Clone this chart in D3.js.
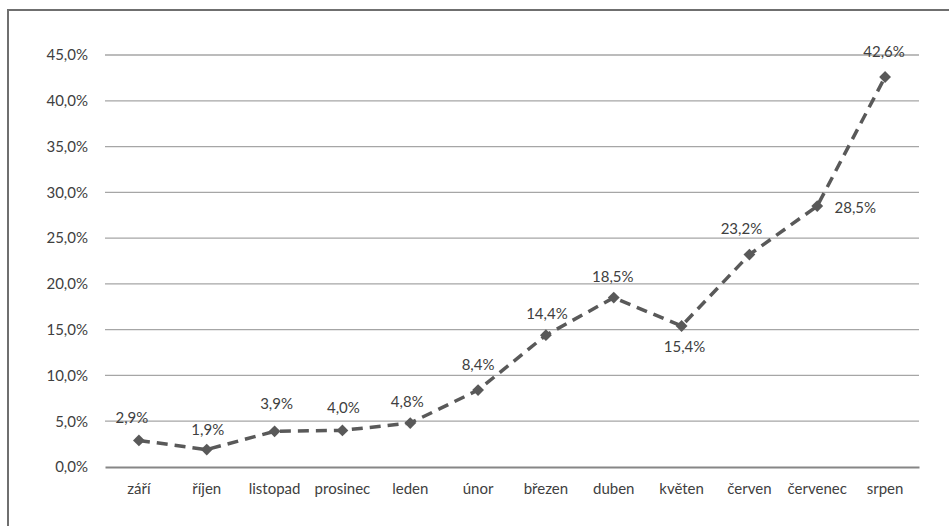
<!DOCTYPE html>
<html>
<head>
<meta charset="utf-8">
<script src="https://cdn.jsdelivr.net/npm/d3@7"></script>
<style>
  body { margin: 0; background: #fff; }
  svg { display: block; font-family: Lato, "Open Sans", sans-serif; }
</style>
</head>
<body>
<script>
const months = ['září', 'říjen', 'listopad', 'prosinec', 'leden', 'únor', 'březen', 'duben', 'květen', 'červen', 'červenec', 'srpen'];
const shares = [2.9, 1.9, 3.9, 4.0, 4.8, 8.4, 14.4, 18.5, 15.4, 23.2, 28.5, 42.6];
const yTicks = [0, 5, 10, 15, 20, 25, 30, 35, 40, 45];

const width = 949, height = 526;
const plot = { left: 105, right: 919, top: 55, bottom: 467 };
const fontSize = '15px';

// hand-placed data labels, as in the original sheet
const labelPlace = {
  'září': [-7, -17], 'říjen': [1, -15], 'listopad': [2, -22], 'prosinec': [1, -17],
  'leden': [-3, -16], 'únor': [0, -20], 'březen': [1, -16], 'duben': [-1, -16],
  'květen': [3, 26], 'červen': [-8, -21], 'červenec': [38, 7], 'srpen': [-1, -20]
};

const fmt = v => v.toFixed(1).replace('.', ',') + '%';

const svg = d3.select('body').append('svg')
  .attr('width', width)
  .attr('height', height);

// frame
svg.append('path')
  .attr('d', `M8,${height + 5} L8,10 L${width + 5},10`)
  .attr('fill', 'none')
  .attr('stroke', '#6f6f6f')
  .attr('stroke-width', 2);

const x = d3.scaleBand()
  .domain(months)
  .range([plot.left, plot.right]);

const y = d3.scaleLinear()
  .domain([0, 45])
  .range([plot.bottom, plot.top]);

// gridlines
svg.append('g')
  .selectAll('line')
  .data(yTicks.filter(d => d > 0))
  .join('line')
  .attr('x1', plot.left)
  .attr('x2', plot.right)
  .attr('y1', d => y(d))
  .attr('y2', d => y(d))
  .attr('stroke', '#a6a6a6')
  .attr('stroke-width', 1.3);

const yAxis = svg.append('g')
  .attr('transform', `translate(${plot.left},0)`)
  .call(d3.axisLeft(y).tickValues(yTicks).tickFormat(fmt).tickSize(0).tickPadding(17));
yAxis.select('.domain').remove();
yAxis.selectAll('text')
  .attr('fill', '#404040')
  .style('font-size', fontSize)
  .style('font-family', 'Lato, "Open Sans", sans-serif');

const xAxis = svg.append('g')
  .attr('transform', `translate(0,${plot.bottom})`)
  .call(d3.axisBottom(x).tickSize(0).tickPadding(16));
xAxis.select('.domain')
  .attr('stroke', '#868686')
  .attr('stroke-width', 2);
xAxis.selectAll('text')
  .attr('fill', '#404040')
  .style('font-size', fontSize)
  .style('font-family', 'Lato, "Open Sans", sans-serif');

const pts = months.map((m, i) => ({ m, v: shares[i] }));
const cx = d => x(d.m) + x.bandwidth() / 2;

svg.append('path')
  .datum(pts)
  .attr('d', d3.line().x(cx).y(d => y(d.v)))
  .attr('fill', 'none')
  .attr('stroke', '#595959')
  .attr('stroke-width', 3.5)
  .attr('stroke-dasharray', '11,7');

svg.append('g')
  .selectAll('path')
  .data(pts)
  .join('path')
  .attr('d', d3.symbol(d3.symbolSquare, 70))
  .attr('transform', d => `translate(${cx(d)},${y(d.v)}) rotate(45)`)
  .attr('fill', '#595959');

svg.append('g')
  .selectAll('text')
  .data(pts)
  .join('text')
  .attr('x', d => cx(d) + labelPlace[d.m][0])
  .attr('y', d => y(d.v) + labelPlace[d.m][1])
  .attr('text-anchor', 'middle')
  .attr('fill', '#404040')
  .style('font-size', fontSize)
  .text(d => fmt(d.v));
</script>
</body>
</html>
